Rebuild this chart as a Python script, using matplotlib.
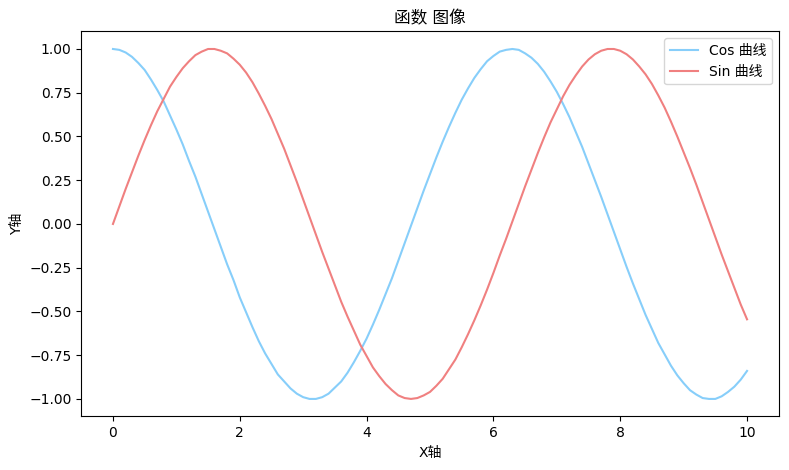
import matplotlib
matplotlib.use('Agg')
import matplotlib.pyplot as plt

# DejaVu for latin text, CJK family as fallback for the chinese labels
plt.rcParams['font.family'] = ['DejaVu Sans', 'Noto Sans CJK SC']

x = [0.0, 0.1, 0.2, 0.3, 0.4, 0.5, 0.6, 0.7, 0.8, 0.9,
     1.0, 1.1, 1.2, 1.3, 1.4, 1.5, 1.6, 1.7, 1.8, 1.9,
     2.0, 2.1, 2.2, 2.3, 2.4, 2.5, 2.6, 2.7, 2.8, 2.9,
     3.0, 3.1, 3.2, 3.3, 3.4, 3.5, 3.6, 3.7, 3.8, 3.9,
     4.0, 4.1, 4.2, 4.3, 4.4, 4.5, 4.6, 4.7, 4.8, 4.9,
     5.0, 5.1, 5.2, 5.3, 5.4, 5.5, 5.6, 5.7, 5.8, 5.9,
     6.0, 6.1, 6.2, 6.3, 6.4, 6.5, 6.6, 6.7, 6.8, 6.9,
     7.0, 7.1, 7.2, 7.3, 7.4, 7.5, 7.6, 7.7, 7.8, 7.9,
     8.0, 8.1, 8.2, 8.3, 8.4, 8.5, 8.6, 8.7, 8.8, 8.9,
     9.0, 9.1, 9.2, 9.3, 9.4, 9.5, 9.6, 9.7, 9.8, 9.9, 10.0]

cos_vals = [1.00, 0.995, 0.98, 0.955, 0.92, 0.88, 0.825, 0.765, 0.70, 0.62,
            0.54, 0.455, 0.36, 0.27, 0.17, 0.07, -0.03, -0.13, -0.23, -0.32,
            -0.42, -0.505, -0.59, -0.67, -0.74, -0.80, -0.86, -0.90, -0.94, -0.97,
            -0.99, -1.00, -1.00, -0.99, -0.97, -0.935, -0.90, -0.85, -0.79, -0.725,
            -0.655, -0.575, -0.49, -0.40, -0.31, -0.21, -0.11, -0.01, 0.09, 0.19,
            0.285, 0.38, 0.47, 0.555, 0.635, 0.71, 0.775, 0.835, 0.885, 0.93,
            0.96, 0.985, 0.995, 1.00, 0.995, 0.975, 0.95, 0.915, 0.87, 0.815,
            0.755, 0.685, 0.61, 0.525, 0.44, 0.345, 0.25, 0.155, 0.055, -0.045,
            -0.145, -0.245, -0.34, -0.43, -0.52, -0.60, -0.68, -0.745, -0.81, -0.865,
            -0.91, -0.95, -0.975, -0.995, -1.00, -1.00, -0.985, -0.96, -0.93, -0.89, -0.84]

sin_vals = [0.00, 0.10, 0.20, 0.295, 0.39, 0.48, 0.565, 0.645, 0.715, 0.785,
            0.84, 0.89, 0.93, 0.965, 0.985, 1.00, 1.00, 0.99, 0.975, 0.945,
            0.91, 0.865, 0.81, 0.745, 0.675, 0.60, 0.515, 0.43, 0.335, 0.24,
            0.14, 0.04, -0.06, -0.16, -0.255, -0.35, -0.445, -0.53, -0.61, -0.69,
            -0.755, -0.82, -0.87, -0.915, -0.95, -0.98, -0.995, -1.00, -0.995, -0.98,
            -0.96, -0.925, -0.885, -0.83, -0.775, -0.705, -0.63, -0.55, -0.465, -0.375,
            -0.28, -0.18, -0.085, 0.015, 0.115, 0.215, 0.31, 0.405, 0.495, 0.58,
            0.655, 0.73, 0.795, 0.85, 0.90, 0.94, 0.97, 0.99, 1.00, 1.00,
            0.99, 0.97, 0.94, 0.90, 0.855, 0.80, 0.735, 0.665, 0.585, 0.50,
            0.41, 0.32, 0.225, 0.125, 0.025, -0.075, -0.175, -0.27, -0.365, -0.46, -0.545]

fig = plt.figure(figsize=(7.89, 4.70), dpi=100)
ax = fig.add_subplot(1, 1, 1)
ax.plot(x, cos_vals, color='lightskyblue', label='Cos 曲线')
ax.plot(x, sin_vals, color='lightcoral', label='Sin 曲线')
ax.set_title('函数 图像')
ax.set_xlabel('X轴')
ax.set_ylabel('Y轴')
ax.legend(loc='upper right')

fig.subplots_adjust(left=0.103, right=0.987, top=0.933, bottom=0.114)
fig.savefig('out.png', dpi=100)
plt.close(fig)
